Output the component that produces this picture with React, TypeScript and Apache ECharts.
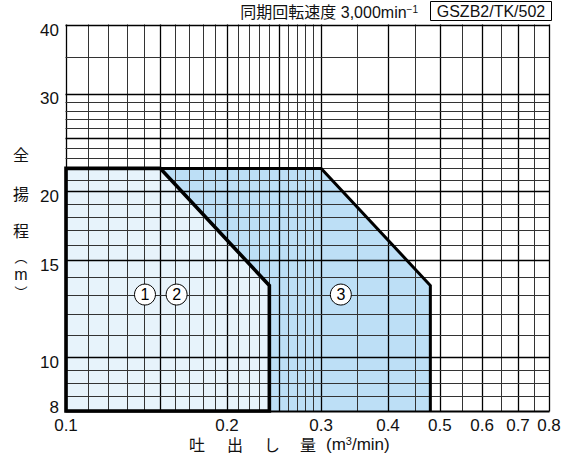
import React, { useEffect, useRef } from "react";
import * as echarts from "echarts";

// Axis extents (log-log chart)
const X_MIN = 0.1;
const X_MAX = 0.8;
const Y_MIN = 8;
const Y_MAX = 40;

// Grid lines of the printed log paper
const xGridValues = [
  0.1, 0.11, 0.12, 0.13, 0.14, 0.15, 0.16, 0.17, 0.18, 0.19, 0.2,
  0.21, 0.22, 0.23, 0.24, 0.25, 0.26, 0.27, 0.28, 0.29, 0.3,
  0.35, 0.4, 0.45, 0.5, 0.55, 0.6, 0.65, 0.7, 0.75, 0.8,
];
const xMajorValues = [0.1, 0.15, 0.2, 0.25, 0.3, 0.4, 0.5, 0.6, 0.7, 0.8];
const yGridValues = [
  8, 8.5, 9, 9.5, 10, 11, 12, 13, 14, 15, 16, 17, 18, 19, 20,
  21, 22, 23, 24, 25, 26, 27, 28, 29, 30, 35, 40,
];
const yMajorValues = [8, 10, 15, 20, 25, 30, 40];

// Tick labels
const xTickLabels = [0.1, 0.2, 0.3, 0.4, 0.5, 0.6, 0.7, 0.8];
const yTickLabels = [8, 10, 15, 20, 30, 40];

// Selection ranges (flow m3/min, head m)
const range12Flow = [0.1, 0.1, 0.15, 0.24, 0.24];
const range12Head = [8, 22, 22, 13.5, 8];
const range3Flow = [0.1, 0.1, 0.3, 0.48, 0.48];
const range3Head = [8, 22, 22, 13.5, 8];

// Circled model markers
const markerNames = ["1", "2", "3"];
const markerFlow = [0.1405, 0.161, 0.3265];
const markerHead = [13, 13, 13];

const FONT = '"Liberation Sans", "Noto Sans CJK JP", sans-serif';
const CJK = '"Noto Sans CJK JP", "Liberation Sans", sans-serif';

const GRID = { left: 66, right: 14, top: 25, bottom: 53 };

export default function App() {
  const ref = useRef<HTMLDivElement>(null);

  useEffect(() => {
    if (!ref.current) return;
    const chart = echarts.init(ref.current, null, { renderer: "svg" });

    const polyFill = (xs: number[], ys: number[], fill: string, z: number) => ({
      type: "custom",
      coordinateSystem: "cartesian2d",
      z,
      silent: true,
      clip: false,
      data: [[xs[0], ys[0]]],
      renderItem: (_p: any, api: any) => ({
        type: "polygon",
        shape: { points: xs.map((x, i) => api.coord([x, ys[i]])) },
        style: { fill, stroke: "none" },
      }),
    });

    const outline = (
      xs: number[],
      ys: number[],
      width: number,
      closed: boolean,
      z: number
    ) => ({
      type: "custom",
      coordinateSystem: "cartesian2d",
      z,
      silent: true,
      clip: false,
      data: [[xs[0], ys[0]]],
      renderItem: (_p: any, api: any) => ({
        type: closed ? "polygon" : "polyline",
        shape: { points: xs.map((x, i) => api.coord([x, ys[i]])) },
        style: {
          fill: "none",
          stroke: "#000",
          lineWidth: width,
          lineJoin: "miter",
        },
      }),
    });

    const option: any = {
      animation: false,
      backgroundColor: "#fff",
      grid: { ...GRID, containLabel: false },
      xAxis: {
        type: "log",
        logBase: 10,
        min: X_MIN,
        max: X_MAX,
        axisLine: { show: false },
        axisTick: { show: false },
        axisLabel: { show: false },
        splitLine: { show: false },
      },
      yAxis: {
        type: "log",
        logBase: 10,
        min: Y_MIN,
        max: Y_MAX,
        axisLine: { show: false },
        axisTick: { show: false },
        axisLabel: { show: false },
        splitLine: { show: false },
      },
      series: [
        polyFill(range3Flow, range3Head, "#bddff6", 1),
        polyFill(range12Flow, range12Head, "#e7f3fb", 2),
        // vertical grid lines
        {
          type: "custom",
          coordinateSystem: "cartesian2d",
          z: 3,
          silent: true,
          clip: false,
          data: xGridValues.map((v) => [v, Y_MIN]),
          renderItem: (params: any, api: any) => {
            const v = xGridValues[params.dataIndex];
            const a = api.coord([v, Y_MIN]);
            const b = api.coord([v, Y_MAX]);
            const major = xMajorValues.includes(v);
            const x = Math.round(a[0]) + 0.5;
            return {
              type: "line",
              shape: { x1: x, y1: a[1] + 0.5, x2: x, y2: b[1] - 0.5 },
              style: { stroke: major ? "#000" : "#333", lineWidth: major ? 1.3 : 1 },
            };
          },
        },
        // horizontal grid lines
        {
          type: "custom",
          coordinateSystem: "cartesian2d",
          z: 3,
          silent: true,
          clip: false,
          data: yGridValues.map((v) => [X_MIN, v]),
          renderItem: (params: any, api: any) => {
            const v = yGridValues[params.dataIndex];
            const a = api.coord([X_MIN, v]);
            const b = api.coord([X_MAX, v]);
            const major = yMajorValues.includes(v);
            const y = Math.round(a[1]) + 0.5;
            return {
              type: "line",
              shape: { x1: a[0] - 0.5, y1: y, x2: b[0] + 0.5, y2: y },
              style: {
                stroke: major ? "#000" : "#333",
                lineWidth: v === Y_MIN ? 2 : major ? 1.3 : 1,
              },
            };
          },
        },
        outline(range3Flow.slice(1), range3Head.slice(1), 3, false, 4),
        outline(range12Flow, range12Head, 3.6, true, 5),
        // tick labels on x
        {
          type: "custom",
          coordinateSystem: "cartesian2d",
          z: 6,
          silent: true,
          clip: false,
          data: xTickLabels.map((v) => [v, Y_MIN]),
          renderItem: (params: any, api: any) => {
            const v = xTickLabels[params.dataIndex];
            const p = api.coord([v, Y_MIN]);
            return {
              type: "text",
              x: p[0],
              y: p[1] + 14,
              style: {
                text: String(v),
                fill: "#111",
                fontSize: 17,
                lineHeight: 15,
                fontFamily: FONT,
                align: "center",
                verticalAlign: "middle",
              },
            };
          },
        },
        // tick labels on y
        {
          type: "custom",
          coordinateSystem: "cartesian2d",
          z: 6,
          silent: true,
          clip: false,
          data: yTickLabels.map((v) => [X_MIN, v]),
          renderItem: (params: any, api: any) => {
            const v = yTickLabels[params.dataIndex];
            const p = api.coord([X_MIN, v]);
            const bottom = api.coord([X_MIN, Y_MIN])[1];
            return {
              type: "text",
              x: p[0] - 7,
              y: Math.min(p[1] + 5, bottom - 4),
              style: {
                text: String(v),
                fill: "#111",
                fontSize: 17,
                fontFamily: FONT,
                align: "right",
                verticalAlign: "middle",
              },
            };
          },
        },
        // circled markers
        {
          type: "scatter",
          z: 7,
          silent: true,
          symbol: "circle",
          symbolSize: 21,
          data: markerFlow.map((x, i) => [x, markerHead[i]]),
          itemStyle: { color: "#fff", borderColor: "#000", borderWidth: 1, opacity: 1 },
          label: {
            show: true,
            position: "inside",
            formatter: (p: any) => markerNames[p.dataIndex],
            color: "#000",
            fontSize: 16,
            fontFamily: FONT,
          },
          emphasis: { disabled: true },
        },
      ],
      graphic: [
        {
          type: "text",
          x: 418,
          y: 12,
          style: {
            text: "同期回転速度 3,000min{s|−1}",
            fill: "#111",
            fontSize: 16,
            fontFamily: FONT,
            align: "right",
            verticalAlign: "middle",
            rich: {
              s: { fontSize: 10, fontFamily: FONT, verticalAlign: "top", fill: "#111" },
            },
          },
        },
        {
          type: "rect",
          shape: { x: 430.5, y: 1.5, width: 121, height: 19 },
          style: { fill: "#fff", stroke: "#000", lineWidth: 1 },
        },
        {
          type: "text",
          x: 491,
          y: 11.5,
          style: {
            text: "GSZB2/TK/502",
            fill: "#111",
            fontSize: 16,
            fontFamily: FONT,
            align: "center",
            verticalAlign: "middle",
          },
        },
        // y axis name (vertical)
        ...[
          { t: "全", y: 154, s: 16, f: CJK },
          { t: "揚", y: 193, s: 16, f: CJK },
          { t: "程", y: 230, s: 16, f: CJK },
          { t: "︵", y: 256, s: 13, f: CJK },
          { t: "m", y: 274, s: 16, f: FONT },
          { t: "︶", y: 291, s: 13, f: CJK },
        ].map((c) => ({
          type: "text",
          x: 21,
          y: c.y,
          style: {
            text: c.t,
            fill: "#111",
            fontSize: c.s,
            lineHeight: c.s,
            fontFamily: c.f,
            align: "center",
            verticalAlign: "middle",
          },
        })),
        // x axis name
        ...[
          { t: "吐", x: 197 },
          { t: "出", x: 235 },
          { t: "し", x: 272 },
          { t: "量", x: 308 },
        ].map((c) => ({
          type: "text",
          x: c.x,
          y: 444,
          style: {
            text: c.t,
            fill: "#111",
            fontSize: 16,
            lineHeight: 16,
            fontFamily: CJK,
            align: "center",
            verticalAlign: "middle",
          },
        })),
        {
          type: "text",
          x: 326,
          y: 444,
          style: {
            text: "(m{s|3}/min)",
            fill: "#111",
            fontSize: 17,
            lineHeight: 17,
            fontFamily: FONT,
            align: "left",
            verticalAlign: "middle",
            rich: {
              s: { fontSize: 11, fontFamily: FONT, verticalAlign: "top", fill: "#111" },
            },
          },
        },
      ],
    };

    chart.setOption(option);
    return () => chart.dispose();
  }, []);

  return (
    <div
      ref={ref}
      style={{ position: "fixed", left: 0, top: 0, width: 563, height: 464, background: "#fff" }}
    />
  );
}
